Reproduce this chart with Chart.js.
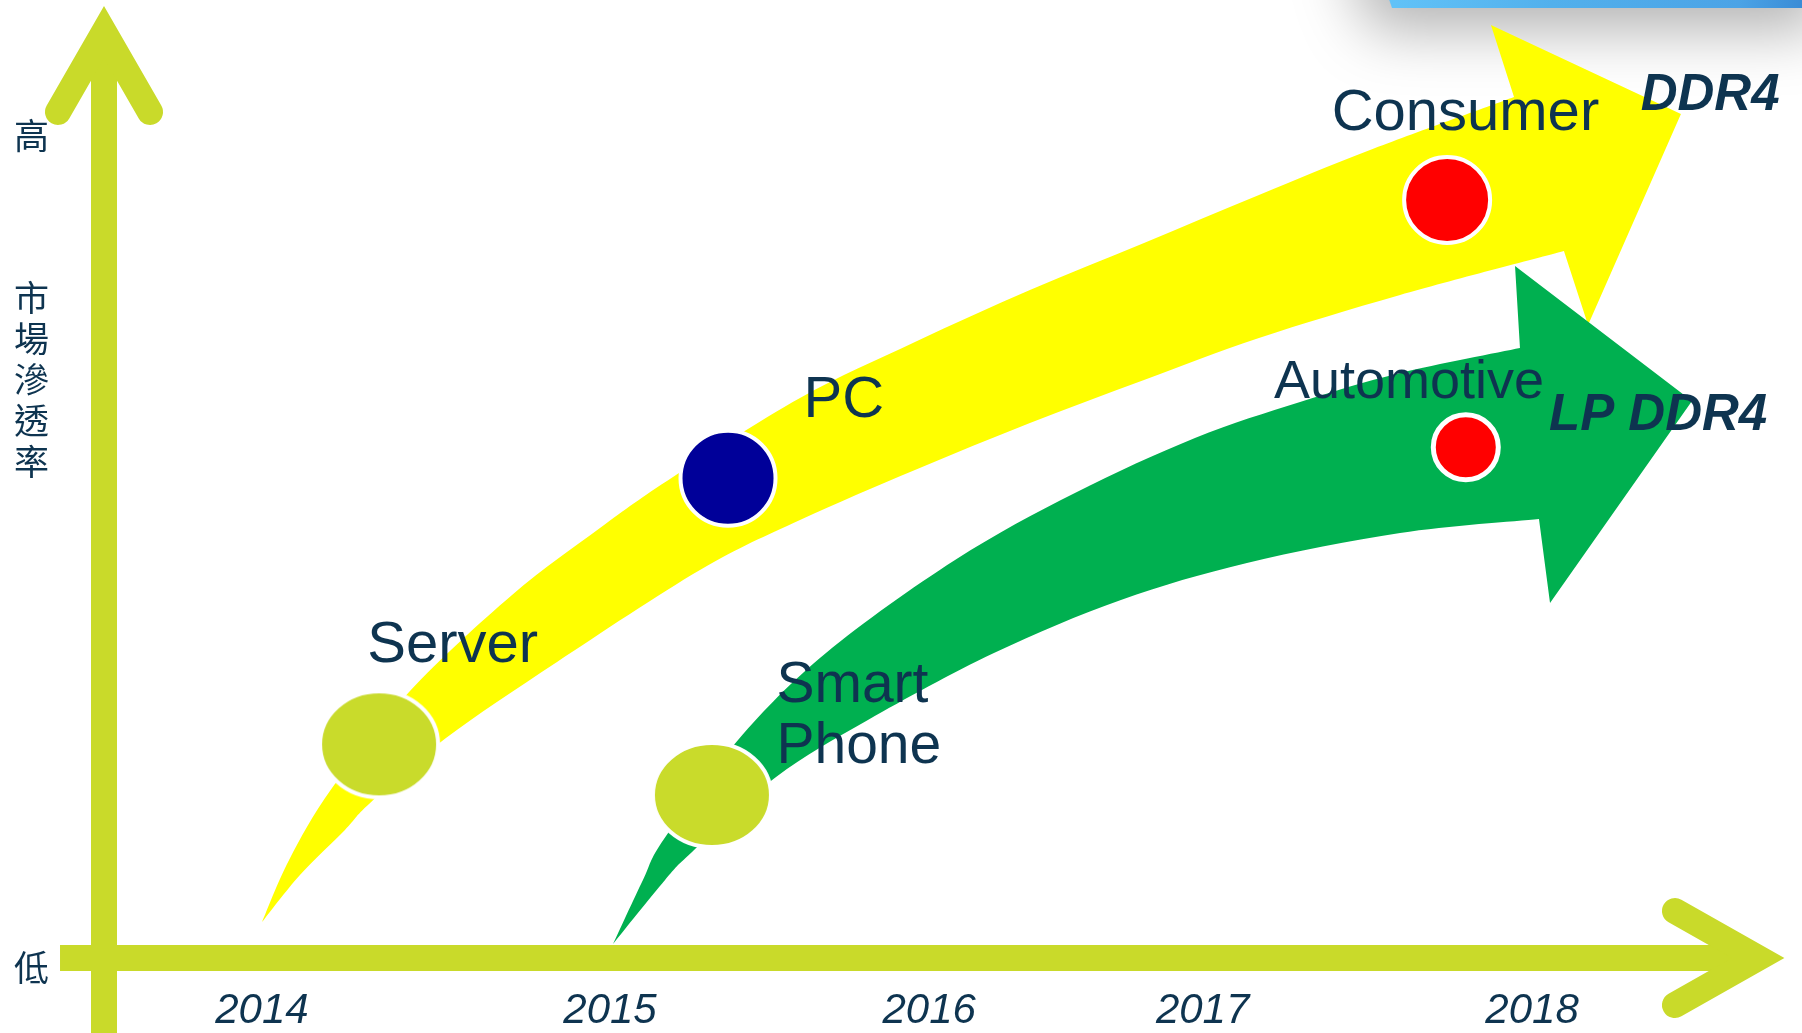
<!DOCTYPE html>
<html>
<head>
<meta charset="utf-8">
<script src="https://cdn.jsdelivr.net/npm/chart.js@4.4.1/dist/chart.umd.min.js"></script>
<style>
  html, body { margin: 0; padding: 0; background: #fff; }
  #wrap { width: 1802px; height: 1033px; position: relative; }
</style>
</head>
<body>
<div id="wrap"><canvas id="chart"></canvas></div>
<script>
// x: timeline (0..100 across the axis), y: market penetration (0..100)
const years = ['2014', '2015', '2016', '2017', '2018'];
const yearPos = [9.3, 29.8, 48.6, 64.7, 84.1];

const levelLabels = ['低', ['市', '場', '滲', '透', '率'], '高'];
const levelPos = [-1.0, 61.7, 87.8];

// application segments (bubbles)
const segments = ['Server', 'Smart Phone', 'PC', 'Automotive', 'Consumer'];
const segTime = [16.2, 35.8, 36.75, 80.2, 79.1];
const segShare = [22.8, 17.4, 51.2, 54.5, 80.9];

// text anchors for segment names
const segLabelTime = [15.5, 39.6, 41.2, 68.9, 72.3];
const segLabelShare = [31.6, 27.3, 57.7, 59.8, 88.4];

// technology tracks: DDR4 (yellow) and LP DDR4 (green)
const tracks = ['DDR4', 'LP DDR4'];
const trackLabelTime = [90.5, 85.1];
const trackLabelShare = [90.5, 56.4];

const ddr4Upper = [[9.31, 3.84], [10.9, 10.46], [13.43, 18.14], [18.02, 28.49], [24.03, 38.74],
  [29.21, 45.89], [33.51, 51.33], [40.99, 59.77], [47.76, 65.74], [54.53, 71.29],
  [61.25, 76.31], [68.02, 81.43], [74.56, 86.23], [83.04, 91.89]];
const ddr4Head = [[81.68, 99.57], [92.87, 90.07], [87.4, 67.56]];
const ddr4Lower = [[85.98, 75.45], [76.33, 70.76], [68.02, 66.17], [61.25, 61.69], [54.53, 57.1],
  [47.76, 52.08], [40.99, 46.74], [35.1, 41.41], [26.68, 31.59], [20.14, 23.48], [15.67, 16.54],
  [14.19, 13.66], [11.54, 8.86], [9.31, 3.84]];

const lpUpper = [[29.98, 1.49], [31.74, 8.32], [32.98, 12.7], [37.34, 23.27], [42.52, 32.55],
  [50.12, 42.48], [57.18, 49.63], [64.25, 55.5], [70.44, 59.34], [76.33, 62.43], [83.39, 65.1]];
const lpHead = [[83.1, 73.85], [93.52, 59.45], [85.16, 37.89]];
const lpLower = [[84.51, 46.85], [76.33, 45.36], [67.31, 42.16], [59.89, 38.21], [52.41, 32.55],
  [44.99, 25.4], [39.58, 19.32], [34.63, 11.31], [33.04, 8.32], [29.98, 1.49]];

// axis arrows
const yArrowTip = 98.83, yArrowArm = [-2.71, 90.29];
const xArrowStart = -2.59, xArrowTip = 97.41, xArrowArm = [92.52, 5.02];

const ink = '#0E3450';
const lime = '#C9DA2A';

function ellipseStyle(rx, ry, fill) {
  const c = document.createElement('canvas');
  c.width = Math.ceil(rx * 2 + 6);
  c.height = Math.ceil(ry * 2 + 6);
  const g = c.getContext('2d');
  g.beginPath();
  g.ellipse(c.width / 2, c.height / 2, rx, ry, 0, 0, Math.PI * 2);
  g.fillStyle = fill;
  g.fill();
  g.lineWidth = 4;
  g.strokeStyle = '#fff';
  g.stroke();
  return c;
}

function spline(ctx, pts) {
  for (let i = 0; i < pts.length - 1; i++) {
    const p0 = pts[Math.max(i - 1, 0)], p1 = pts[i], p2 = pts[i + 1], p3 = pts[Math.min(i + 2, pts.length - 1)];
    const t = 1 / 6;
    ctx.bezierCurveTo(p1.x + (p2.x - p0.x) * t, p1.y + (p2.y - p0.y) * t,
      p2.x - (p3.x - p1.x) * t, p2.y - (p3.y - p1.y) * t, p2.x, p2.y);
  }
}

const diagram = {
  id: 'diagram',
  beforeDraw(chart) {
    const ctx = chart.ctx, w = chart.width;
    // cropped slide banner in the top right corner, with its drop shadow
    ctx.save();
    const grad = ctx.createLinearGradient(w - 417, 0, w, 0);
    grad.addColorStop(0, '#62C3F8');
    grad.addColorStop(0.4, '#52B0EC');
    grad.addColorStop(0.85, '#4BA3E6');
    grad.addColorStop(1, '#3A8CD6');
    ctx.shadowColor = 'rgba(0,0,0,0.3)';
    ctx.shadowBlur = 60;
    ctx.shadowOffsetX = -20;
    ctx.shadowOffsetY = 22;
    ctx.beginPath();
    ctx.moveTo(w - 440, -80);
    ctx.lineTo(w + 40, -80);
    ctx.lineTo(w + 40, 8);
    ctx.lineTo(w - 410, 8);
    ctx.closePath();
    ctx.fillStyle = grad;
    ctx.fill();
    ctx.restore();
  },
  beforeDatasetsDraw(chart) {
    const ctx = chart.ctx, xs = chart.scales.x, ys = chart.scales.y;
    const P = (p) => ({ x: xs.getPixelForValue(p[0]), y: ys.getPixelForValue(p[1]) });

    function arrow(upper, head, lower, color) {
      const u = upper.map(P), hd = head.map(P), lo = lower.map(P);
      ctx.beginPath();
      ctx.moveTo(u[0].x, u[0].y);
      spline(ctx, u);
      hd.forEach(p => ctx.lineTo(p.x, p.y));
      ctx.lineTo(lo[0].x, lo[0].y);
      spline(ctx, lo);
      ctx.closePath();
      ctx.fillStyle = color;
      ctx.fill();
    }
    ctx.save();
    arrow(ddr4Upper, ddr4Head, ddr4Lower, '#FFFF00');
    arrow(lpUpper, lpHead, lpLower, '#00B050');

    // axes drawn as thick arrows
    ctx.strokeStyle = lime;
    ctx.lineWidth = 26;
    const x0 = xs.getPixelForValue(0), y0 = ys.getPixelForValue(0);
    const vTip = ys.getPixelForValue(yArrowTip);
    ctx.lineCap = 'butt';
    ctx.beginPath();
    ctx.moveTo(x0, chart.height);
    ctx.lineTo(x0, vTip + 20);
    ctx.moveTo(xs.getPixelForValue(xArrowStart), y0);
    ctx.lineTo(xs.getPixelForValue(xArrowTip) - 20, y0);
    ctx.stroke();

    ctx.lineCap = 'round';
    ctx.lineJoin = 'miter';
    ctx.miterLimit = 10;
    ctx.beginPath();
    ctx.moveTo(xs.getPixelForValue(yArrowArm[0]), ys.getPixelForValue(yArrowArm[1]));
    ctx.lineTo(x0, vTip);
    ctx.lineTo(xs.getPixelForValue(-yArrowArm[0]), ys.getPixelForValue(yArrowArm[1]));
    ctx.moveTo(xs.getPixelForValue(xArrowArm[0]), ys.getPixelForValue(xArrowArm[1]));
    ctx.lineTo(xs.getPixelForValue(xArrowTip), y0);
    ctx.lineTo(xs.getPixelForValue(xArrowArm[0]), ys.getPixelForValue(-xArrowArm[1]));
    ctx.stroke();
    ctx.restore();
  },
  afterDatasetsDraw(chart) {
    const ctx = chart.ctx, xs = chart.scales.x, ys = chart.scales.y;
    ctx.save();
    ctx.fillStyle = ink;
    ctx.textAlign = 'left';
    ctx.textBaseline = 'alphabetic';
    segments.forEach((name, i) => {
      const x = xs.getPixelForValue(segLabelTime[i]);
      const y = ys.getPixelForValue(segLabelShare[i]);
      const size = name === 'Automotive' ? 54 : (name === 'Smart Phone' ? 57 : 58);
      ctx.font = size + 'px "Liberation Sans", Arial, sans-serif';
      if (name === 'Smart Phone') {
        name.split(' ').forEach((line, k) => ctx.fillText(line, x, y + k * 61));
      } else {
        ctx.fillText(name, x, y);
      }
    });
    ctx.font = 'italic bold 51px "Liberation Sans", Arial, sans-serif';
    tracks.forEach((name, i) => {
      ctx.fillText(name, xs.getPixelForValue(trackLabelTime[i]), ys.getPixelForValue(trackLabelShare[i]));
    });
    ctx.restore();
  }
};

const bubbleFill = ['#C9DB2B', '#C9DB2B', '#000099', '#FF0000', '#FF0000'];
const bubbleStyle = [ellipseStyle(59, 53, bubbleFill[0]), ellipseStyle(59, 52, bubbleFill[1]), 'circle', 'circle', 'circle'];

new Chart(document.getElementById('chart'), {
  type: 'scatter',
  data: {
    datasets: [{
      label: 'Segments',
      data: segments.map((s, i) => ({ x: segTime[i], y: segShare[i] })),
      pointStyle: bubbleStyle,
      pointRadius: [58, 58, 47.5, 32.5, 43],
      pointBorderWidth: [0, 0, 4, 5, 4],
      pointBackgroundColor: bubbleFill,
      pointBorderColor: '#FFFFFF',
      clip: false
    }]
  },
  options: {
    responsive: true,
    maintainAspectRatio: false,
    animation: false,
    events: [],
    layout: { autoPadding: false, padding: { left: 14, top: 21, right: 0, bottom: 0 } },
    plugins: { legend: { display: false }, tooltip: { enabled: false } },
    scales: {
      x: {
        type: 'linear', min: 0, max: 100,
        grid: { display: false, drawTicks: false },
        border: { display: false },
        afterBuildTicks: (s) => { s.ticks = yearPos.map(v => ({ value: v })); },
        afterFit: (s) => { s.height = 75; s.paddingLeft = 0; s.paddingRight = 0; },
        ticks: {
          autoSkip: false, maxRotation: 0, padding: 28, color: ink,
          font: { family: '"Liberation Sans", Arial, sans-serif', size: 42, style: 'italic' },
          callback: (v, i) => years[i]
        }
      },
      y: {
        type: 'linear', min: 0, max: 100,
        grid: { display: false, drawTicks: false },
        border: { display: false },
        afterBuildTicks: (s) => { s.ticks = levelPos.map(v => ({ value: v })); },
        afterFit: (s) => { s.width = 90; s.paddingTop = 0; s.paddingBottom = 0; },
        ticks: {
          autoSkip: false, padding: 0, crossAlign: 'far', color: ink,
          font: { family: '"Noto Sans CJK TC", "Noto Sans CJK SC", sans-serif', size: 35, lineHeight: 1.17 },
          callback: (v, i) => levelLabels[i]
        }
      }
    }
  },
  plugins: [diagram]
});
</script>
</body>
</html>
